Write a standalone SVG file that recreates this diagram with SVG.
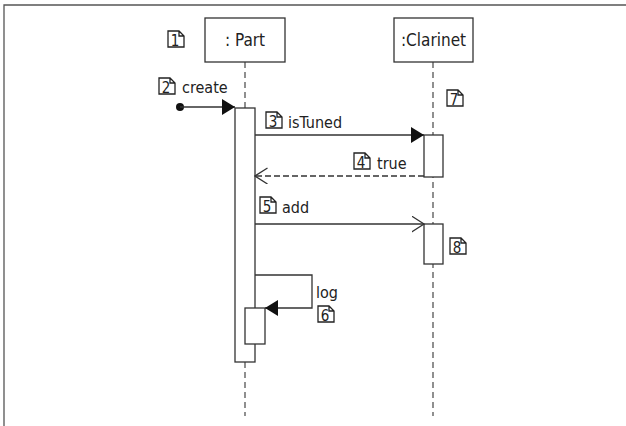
<svg xmlns="http://www.w3.org/2000/svg" width="626" height="426" viewBox="0 0 626 426">
<defs>
<style>
.frame{fill:none;stroke:#555;stroke-width:1.3}
.box{fill:#fff;stroke:#333;stroke-width:1.3}
.life{stroke:#555;stroke-width:1.3;stroke-dasharray:6 4;fill:none}
.msg{stroke:#333;stroke-width:1.3;fill:none}
.ret{stroke:#333;stroke-width:1.3;fill:none;stroke-dasharray:6 3}
.t{font-family:"DejaVu Sans Condensed","DejaVu Sans",sans-serif;font-stretch:condensed;font-size:16px;fill:#222}
.h{font-family:"DejaVu Sans Condensed","DejaVu Sans",sans-serif;font-stretch:condensed;font-size:17px;fill:#222;text-anchor:middle}
.n{font-family:"DejaVu Sans Condensed","DejaVu Sans",sans-serif;font-stretch:condensed;font-size:15px;fill:#222;text-anchor:middle}
.ic{fill:#fff;stroke:#222;stroke-width:1.3}
</style>
<g id="note">
<path class="ic" d="M0,0 H11 L16,5 V16 H0 Z M11,0 V5 H16"/>
</g>
<marker id="filled" markerWidth="14" markerHeight="18" refX="13" refY="8" orient="auto" markerUnits="userSpaceOnUse">
<path d="M0,0 L13,8 L0,16 Z" fill="#111"/>
</marker>
<marker id="open" markerWidth="14" markerHeight="18" refX="12.5" refY="8" orient="auto" markerUnits="userSpaceOnUse">
<path d="M0,0 L12.5,8 L0,16" fill="none" stroke="#333" stroke-width="1.3"/>
</marker>
</defs>
<rect width="626" height="426" fill="#fff"/>
<path class="frame" d="M4,426 V5 H626"/>

<g id="lifelines">
<line class="life" x1="245" y1="62" x2="245" y2="416"/>
<line class="life" x1="433" y1="62" x2="433" y2="416"/>
</g>

<g id="part">
<rect class="box" x="205" y="18" width="80" height="44"/>
<text class="h" x="245" y="46">: Part</text>
<use href="#note" x="168" y="31"/>
<text class="n" x="175" y="46">1</text>
</g>

<g id="clarinet">
<rect class="box" x="394" y="18" width="79" height="44"/>
<text class="h" x="433.5" y="46">:Clarinet</text>
<use href="#note" x="447" y="90"/>
<text class="n" x="454" y="105">7</text>
</g>

<g id="part-activation">
<rect class="box" x="235" y="108" width="20" height="254"/>
</g>
<g id="part-nested-activation">
<rect class="box" x="245" y="308" width="20" height="36"/>
</g>
<g id="clarinet-activation-1">
<rect class="box" x="424" y="135" width="19" height="42"/>
</g>
<g id="clarinet-activation-2">
<rect class="box" x="424" y="224" width="19" height="40"/>
</g>

<g id="connectors">
<circle cx="180" cy="107" r="4" fill="#111"/>
<line class="msg" x1="180" y1="107" x2="235" y2="107" marker-end="url(#filled)"/>
<line class="msg" x1="255" y1="135" x2="424" y2="135" marker-end="url(#filled)"/>
<line class="ret" x1="424" y1="176" x2="255" y2="176" marker-end="url(#open)"/>
<line class="msg" x1="255" y1="224" x2="424" y2="224" marker-end="url(#open)"/>
<path class="msg" d="M255,275 H312 V308 H265" marker-end="url(#filled)"/>
</g>

<g id="labels">
<use href="#note" x="159" y="78"/>
<text class="n" x="166" y="93">2</text>
<text class="t" x="182" y="93">create</text>

<use href="#note" x="266" y="112"/>
<text class="n" x="273" y="127">3</text>
<text class="t" x="288" y="128">isTuned</text>

<use href="#note" x="354" y="153"/>
<text class="n" x="361" y="168">4</text>
<text class="t" x="377" y="169">true</text>

<use href="#note" x="260" y="197"/>
<text class="n" x="267" y="212">5</text>
<text class="t" x="282" y="213">add</text>

<text class="t" x="316" y="298">log</text>
<use href="#note" x="318" y="306"/>
<text class="n" x="325" y="321">6</text>

<use href="#note" x="450" y="238"/>
<text class="n" x="457" y="253">8</text>
</g>
</svg>
